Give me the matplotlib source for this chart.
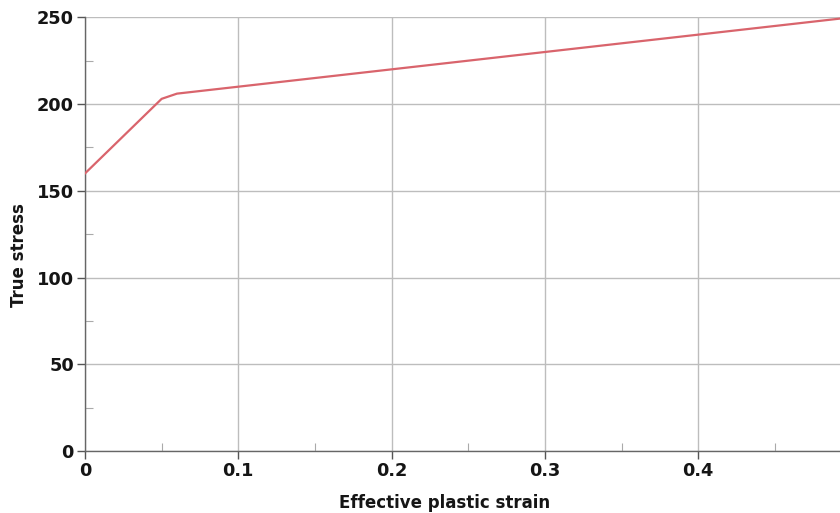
import matplotlib.pyplot as plt
from matplotlib.ticker import MultipleLocator

# hardening curve
strain = [0.0, 0.05, 0.06, 0.5]
stress = [160, 203, 206, 250]

fig = plt.figure(figsize=(8.4, 5.13), dpi=100)
ax = fig.add_axes([85 / 840, 1 - 451 / 513, 1 - 85 / 840, (451 - 17.3) / 513])

ax.plot(strain, stress, color='#d9646c', linewidth=1.6, zorder=3)

ax.set_xlim(0, 0.4925)
ax.set_ylim(0, 250)
ax.xaxis.set_major_locator(MultipleLocator(0.1))
ax.xaxis.set_minor_locator(MultipleLocator(0.05))
ax.yaxis.set_major_locator(MultipleLocator(50))
ax.yaxis.set_minor_locator(MultipleLocator(25))
ax.xaxis.set_major_formatter(plt.FuncFormatter(lambda v, p: '0' if v == 0 else f'{v:g}'))

ax.grid(True, which='major', color='#bdbdbd', linewidth=1.0)
ax.tick_params(which='major', direction='out', length=6, width=1, color='#555555',
               labelsize=12.8, pad=2)
ax.tick_params(which='minor', direction='in', length=6, width=0.8, color='#aaaaaa')
for lab in ax.get_xticklabels() + ax.get_yticklabels():
    lab.set_fontweight('bold')
    lab.set_color('#151515')

for side in ['top', 'right']:
    ax.spines[side].set_visible(False)
for side in ['left', 'bottom']:
    ax.spines[side].set_color('#666666')
    ax.spines[side].set_linewidth(1.0)

fig.text(445 / 840, 1 - 503 / 513, 'Effective plastic strain', ha='center', va='center',
         fontsize=12, fontweight='bold', color='#151515')
fig.text(19 / 840, 1 - 255 / 513, 'True stress', ha='center', va='center', rotation=90,
         fontsize=12, fontweight='bold', color='#151515')

fig.savefig('out.png', dpi=100)
